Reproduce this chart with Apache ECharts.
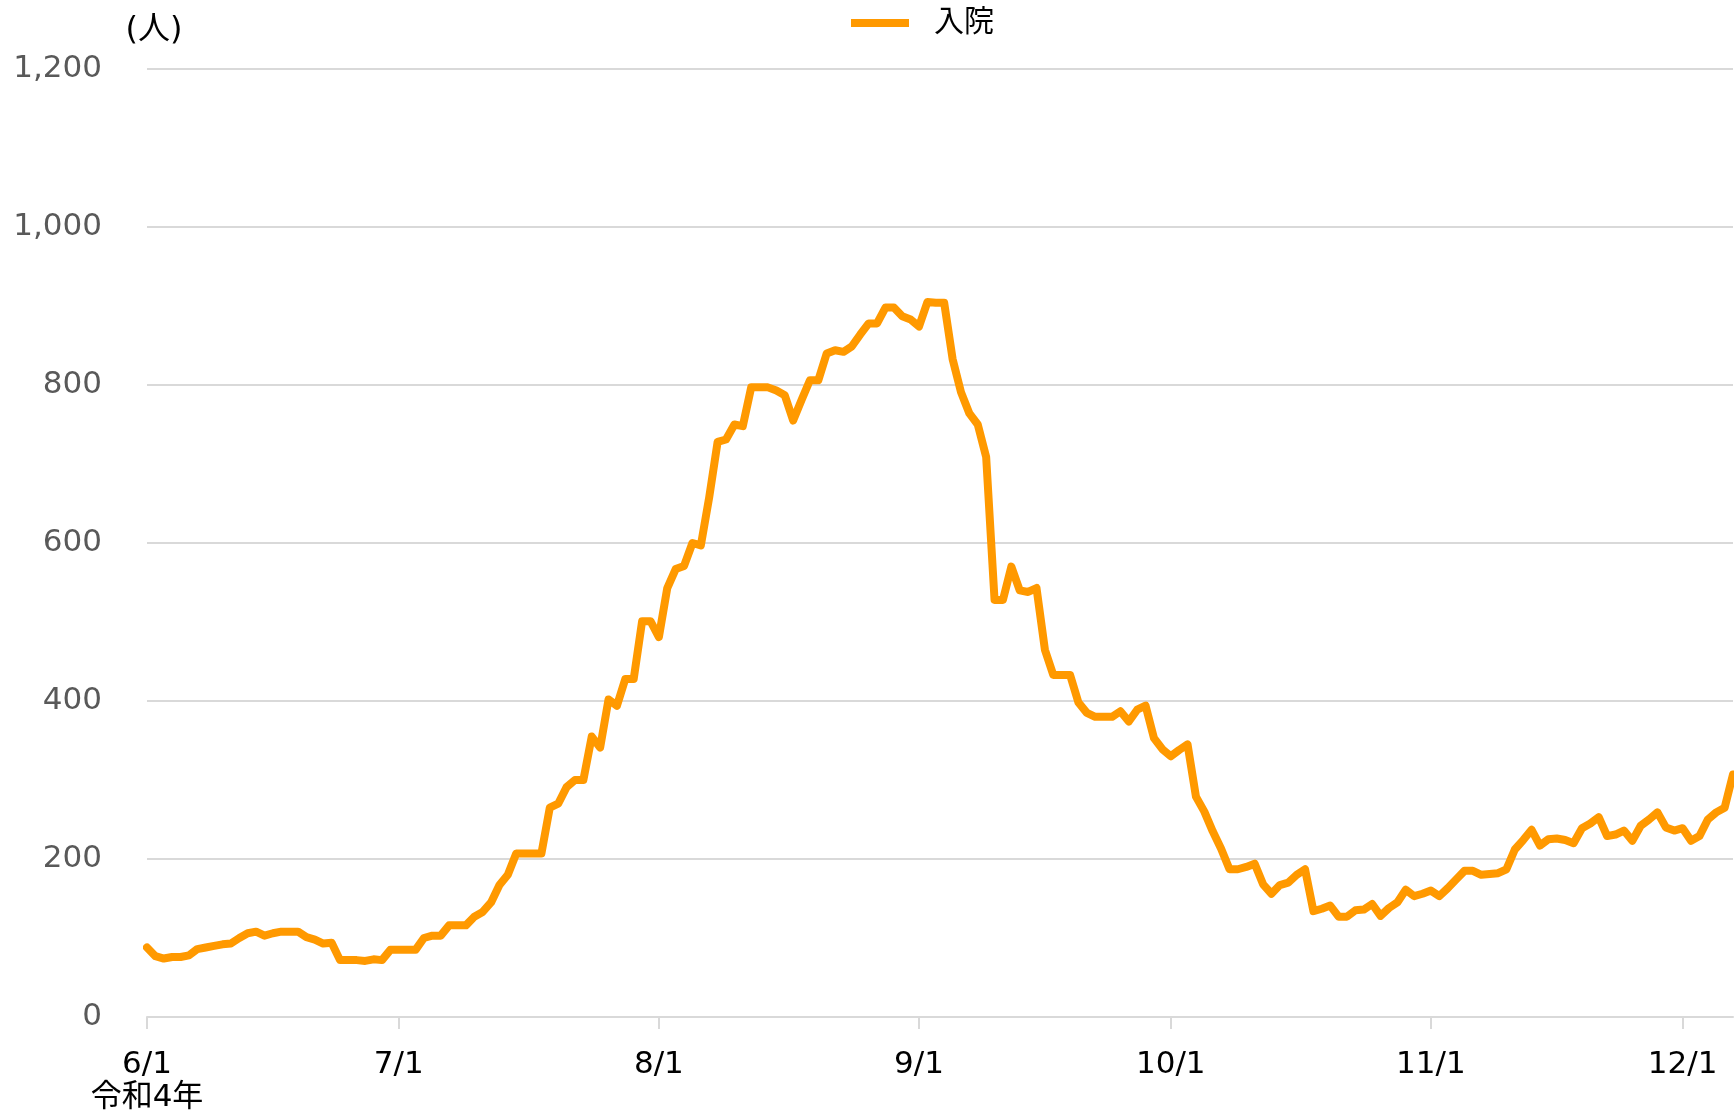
<!DOCTYPE html>
<html>
<head>
<meta charset="utf-8">
<title>入院</title>
<script src="https://cdn.jsdelivr.net/npm/echarts@6/dist/echarts.min.js"></script>
<style>
  html, body { margin: 0; padding: 0; background: #fff; }
  #chart { width: 1734px; height: 1113px; }
</style>
</head>
<body>
<div id="chart"></div>
<script>
// 令和4年 6/1 ～ 12/7 日別の入院者数
const monthNums = [6, 7, 8, 9, 10, 11, 12];
const junValues = [88, 77, 74, 76, 76, 78, 86, 88, 90, 92, 93, 100, 106, 108, 103, 106, 108, 108, 108, 101, 98, 93, 94, 72, 72, 72, 71, 73, 72, 85];
const julValues = [85, 85, 85, 100, 103, 103, 116, 116, 116, 127, 133, 145, 167, 180, 207, 207, 207, 207, 265, 270, 291, 300, 300, 355, 341, 402, 394, 428, 428, 501, 501];
const augValues = [481, 543, 567, 571, 600, 597, 658, 728, 731, 750, 748, 797, 797, 797, 793, 787, 755, 781, 806, 806, 840, 844, 842, 849, 864, 878, 878, 898, 898, 887, 883];
const sepValues = [874, 905, 904, 904, 833, 791, 764, 750, 709, 528, 528, 570, 540, 538, 543, 465, 433, 433, 433, 398, 385, 380, 380, 380, 387, 374, 389, 394, 353, 339];
const octValues = [330, 338, 345, 279, 260, 235, 213, 187, 187, 190, 194, 168, 156, 167, 170, 180, 187, 134, 137, 141, 127, 127, 135, 136, 143, 128, 138, 145, 161, 153, 156];
const novValues = [160, 153, 163, 174, 185, 185, 180, 181, 182, 187, 212, 224, 237, 217, 225, 226, 224, 220, 239, 245, 253, 229, 231, 236, 223, 242, 250, 259, 240, 236];
const decValues = [239, 223, 229, 250, 259, 265, 307];
const yTicks = [0, 200, 400, 600, 800, 1000, 1200];

const monthValues = [junValues, julValues, augValues, sepValues, octValues, novValues, decValues];

// カテゴリ（日付）
let dates = [];
let values = [];
monthValues.forEach(function(list, m) {
  list.forEach(function(v, i) {
    dates.push(monthNums[m] + "/" + (i + 1));
    values.push(v);
  });
});

const isMonthStart = function(index, value) {
  return /\/1$/.test(value);
};

const fontFamily = "'DejaVu Sans', 'Noto Sans CJK JP', sans-serif";
const lineColor = "#FF9900";
const gridColor = "#d9d9d9";

const option = {
  animation: false,
  color: [lineColor],
  grid: {
    left: 147,
    right: 1,
    top: 69,
    bottom: 96,
    outerBoundsMode: "none"
  },
  legend: {
    data: [{ name: "入院", icon: "rect" }],
    left: 846,
    top: 3,
    itemWidth: 58,
    itemHeight: 8,
    textStyle: {
      fontFamily: fontFamily,
      fontSize: 30,
      color: "#000",
      padding: [0, 0, 0, 20]
    }
  },
  xAxis: {
    type: "category",
    boundaryGap: false,
    data: dates,
    axisLine: { lineStyle: { color: gridColor, width: 2 } },
    axisTick: {
      interval: isMonthStart,
      length: 12,
      lineStyle: { color: gridColor, width: 2 }
    },
    axisLabel: {
      interval: isMonthStart,
      margin: 31,
      color: "#000",
      fontFamily: fontFamily,
      fontSize: 31,
      lineHeight: 33,
      formatter: function(value, index) {
        return index === 0 ? value + "\n令和4年" : value;
      }
    },
    splitLine: { show: false }
  },
  yAxis: {
    type: "value",
    min: yTicks[0],
    max: yTicks[yTicks.length - 1],
    interval: 200,
    name: "(人)",
    nameLocation: "end",
    nameGap: 22,
    nameTextStyle: {
      fontFamily: fontFamily,
      fontSize: 32,
      color: "#000",
      padding: [0, 0, 0, 14]
    },
    axisLine: { show: false },
    axisTick: { show: false },
    axisLabel: {
      margin: 45,
      color: "#595959",
      fontFamily: fontFamily,
      fontSize: 31,
      formatter: function(v) {
        return String(v).replace(/\B(?=(\d{3})+(?!\d))/g, ",");
      }
    },
    splitLine: { lineStyle: { color: gridColor, width: 2 } }
  },
  series: [
    {
      name: "入院",
      type: "line",
      data: values,
      showSymbol: false,
      symbol: "none",
      lineStyle: {
        color: lineColor,
        width: 8,
        cap: "round",
        join: "round"
      }
    }
  ]
};

const chart = echarts.init(document.getElementById("chart"));
chart.setOption(option);
</script>
</body>
</html>
